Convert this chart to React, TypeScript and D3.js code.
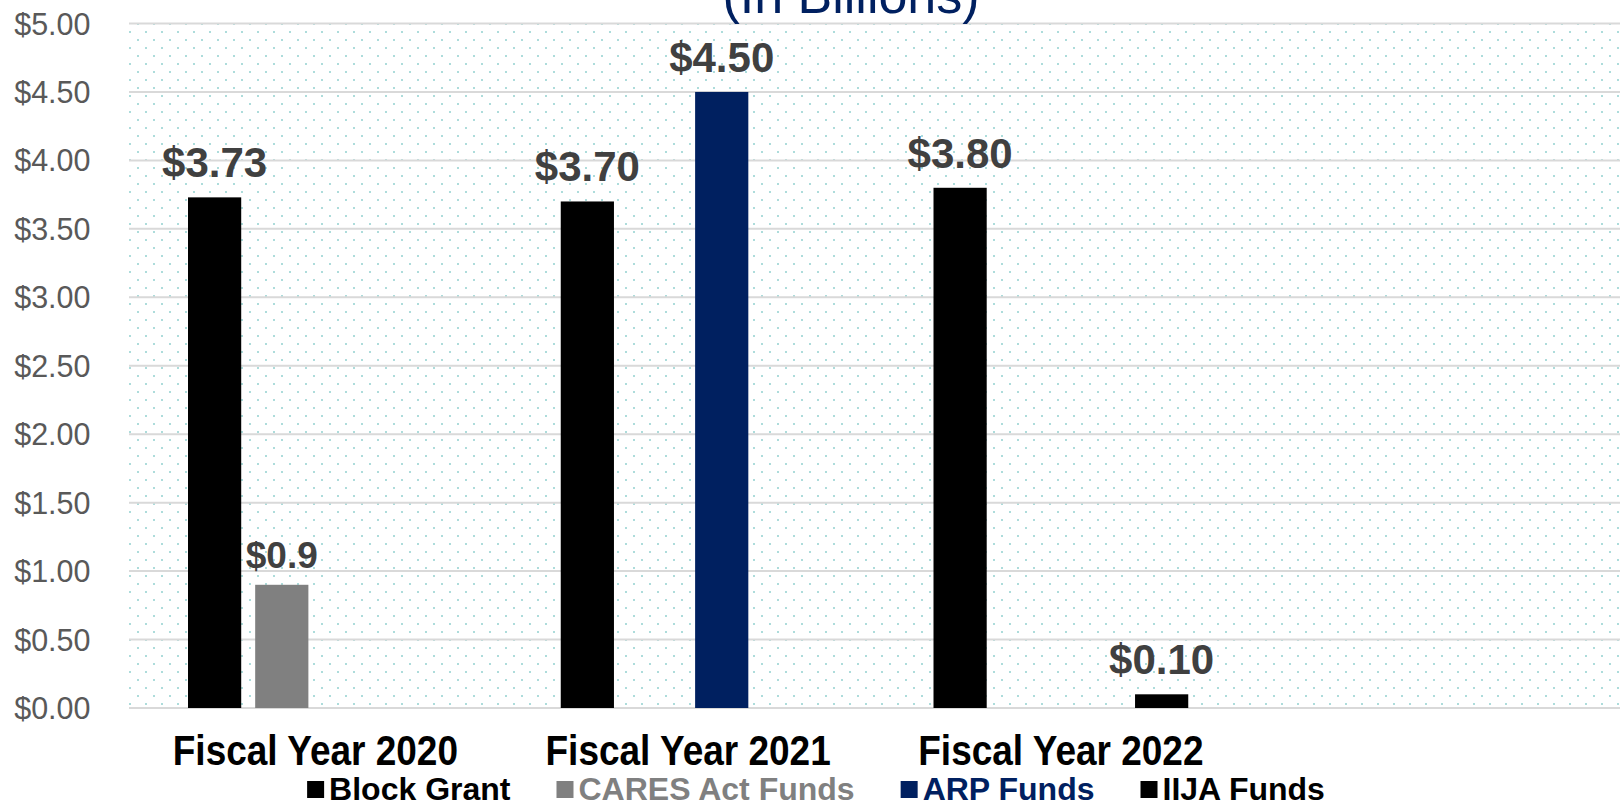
import React, { useEffect, useRef } from "react";
import * as d3 from "d3";

const categories = ["Fiscal Year 2020", "Fiscal Year 2021", "Fiscal Year 2022", ""];
const seriesNames = ["Block Grant", "CARES Act Funds", "ARP Funds", "IIJA Funds"];
const seriesColors = ["#000000", "#808080", "#002060", "#000000"];
const blockGrant = [3.73, 3.7, 3.8, null];
const caresAct = [0.9, null, null, null];
const arpFunds = [null, 4.5, null, null];
const iijaFunds = [null, null, 0.1, null];
const seriesDecimals = [2, 1, 2, 2];
const yTicks = [0, 0.5, 1, 1.5, 2, 2.5, 3, 3.5, 4, 4.5, 5];
const titleText = "(In Billions)";

const W = 1622;
const H = 807;

export default function App() {
  const ref = useRef<SVGSVGElement | null>(null);

  useEffect(() => {
    document.body.style.margin = "0";
    const svg = d3.select(ref.current);
    svg.selectAll("*").remove();

    const left = 129;
    const right = 1620;
    const top = 23.5;
    const bottom = 708;

    const x = d3.scaleBand<string>().domain(categories.map((c, i) => c + "#" + i)).range([left, right]).padding(0);
    const inner = d3
      .scaleBand<string>()
      .domain(seriesNames)
      .range([59, x.bandwidth() - 59])
      .paddingInner(0.208)
      .paddingOuter(0);
    const y = d3.scaleLinear().domain([0, 5]).range([bottom, top]);

    const defs = svg.append("defs");
    const pat = defs
      .append("pattern")
      .attr("id", "dots")
      .attr("patternUnits", "userSpaceOnUse")
      .attr("x", 129)
      .attr("y", 31)
      .attr("width", 16)
      .attr("height", 16);
    pat.append("rect").attr("x", 0).attr("y", 0).attr("width", 2).attr("height", 2).attr("fill", "#addcdb");
    pat.append("rect").attr("x", 8).attr("y", 8).attr("width", 2).attr("height", 2).attr("fill", "#addcdb");

    svg
      .append("rect")
      .attr("x", left)
      .attr("y", y(5))
      .attr("width", right - left)
      .attr("height", y(0) - y(5))
      .attr("fill", "url(#dots)");

    svg
      .append("g")
      .selectAll("line")
      .data(yTicks)
      .join("line")
      .attr("x1", left)
      .attr("x2", right)
      .attr("y1", (d) => y(d))
      .attr("y2", (d) => y(d))
      .attr("stroke", "#d9d9d9")
      .attr("stroke-width", 2);

    svg
      .append("g")
      .selectAll("text")
      .data(yTicks)
      .join("text")
      .attr("x", 90.5)
      .attr("y", (d) => y(d) + 11)
      .attr("text-anchor", "end")
      .attr("font-family", "Liberation Sans, Arial, sans-serif")
      .attr("font-size", 30.5)
      .attr("fill", "#595959")
      .text((d) => "$" + d3.format(".2f")(d));

    svg
      .append("text")
      .attr("x", 851)
      .attr("y", 13)
      .attr("text-anchor", "middle")
      .attr("font-family", "Liberation Sans, Arial, sans-serif")
      .attr("font-size", 52)
      .attr("fill", "#002060")
      .text(titleText);

    const allSeries = [blockGrant, caresAct, arpFunds, iijaFunds];
    type Bar = { cat: string; s: number; v: number };
    const bars: Bar[] = [];
    allSeries.forEach((arr, s) => {
      arr.forEach((v, ci) => {
        if (v != null) bars.push({ cat: categories[ci] + "#" + ci, s, v });
      });
    });

    svg
      .append("g")
      .selectAll("rect")
      .data(bars)
      .join("rect")
      .attr("x", (d) => (x(d.cat) as number) + (inner(seriesNames[d.s]) as number))
      .attr("y", (d) => y(d.v))
      .attr("width", inner.bandwidth())
      .attr("height", (d) => y(0) - y(d.v))
      .attr("fill", (d) => seriesColors[d.s]);

    svg
      .append("g")
      .selectAll("text")
      .data(bars)
      .join("text")
      .attr("x", (d) => (x(d.cat) as number) + (inner(seriesNames[d.s]) as number) + inner.bandwidth() / 2)
      .attr("y", (d) => y(d.v) - (d.s === 1 ? 17 : 20))
      .attr("text-anchor", "middle")
      .attr("font-family", "Liberation Sans, Arial, sans-serif")
      .attr("font-weight", "bold")
      .attr("font-size", (d) => (d.s === 1 ? 37 : 42))
      .attr("fill", "#404040")
      .text((d) => "$" + d.v.toFixed(seriesDecimals[d.s]));

    svg
      .append("g")
      .selectAll("text")
      .data(categories.map((c, i) => ({ c, key: c + "#" + i })))
      .join("text")
      .attr(
        "transform",
        (d) => `translate(${(x(d.key) as number) + x.bandwidth() / 2},765) scale(1,1.13)`
      )
      .attr("text-anchor", "middle")
      .attr("font-family", "Liberation Sans, Arial, sans-serif")
      .attr("font-weight", "bold")
      .attr("font-size", 37)
      .attr("fill", "#000000")
      .text((d) => d.c);

    const lg = svg.append("g");
    const items = seriesNames.map((name, i) => {
      const g = lg.append("g");
      g.append("rect").attr("x", 0).attr("y", 781).attr("width", 17).attr("height", 17).attr("fill", seriesColors[i]);
      const t = g
        .append("text")
        .attr("x", 22)
        .attr("y", 800)
        .attr("font-family", "Liberation Sans, Arial, sans-serif")
        .attr("font-weight", "bold")
        .attr("font-size", 32)
        .attr("fill", seriesColors[i])
        .text(name);
      const w = 22 + (t.node() as SVGTextElement).getComputedTextLength();
      return { g, w };
    });
    const gap = 46;
    const total = items.reduce((a, b) => a + b.w, 0) + gap * (items.length - 1);
    let cx = 816 - total / 2;
    items.forEach((it) => {
      it.g.attr("transform", `translate(${cx},0)`);
      cx += it.w + gap;
    });
  }, []);

  return <svg ref={ref} width={W} height={H} style={{ display: "block", background: "#fff" }} />;
}
